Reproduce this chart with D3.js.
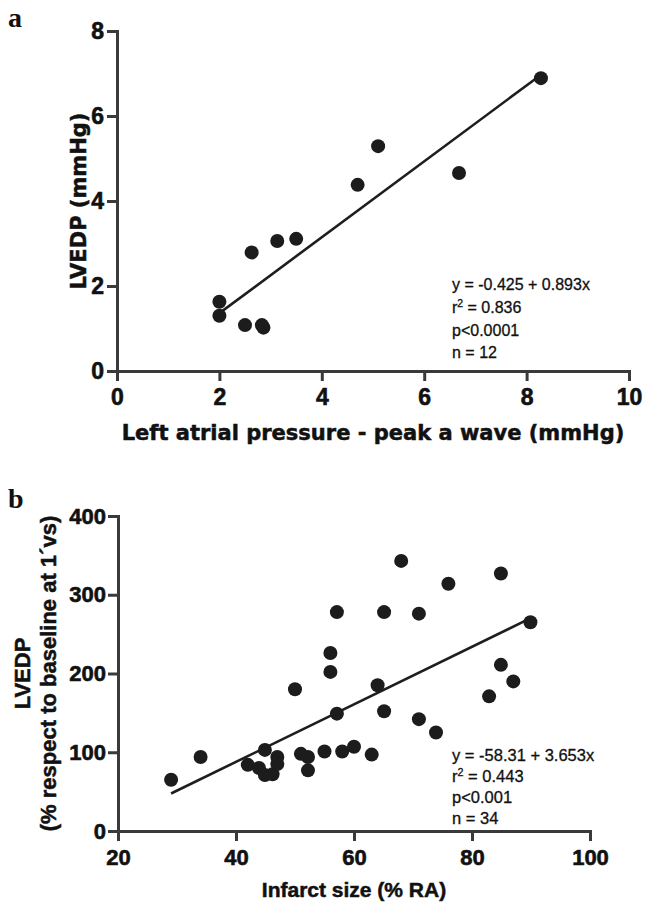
<!DOCTYPE html>
<html>
<head>
<meta charset="utf-8">
<script src="https://cdn.jsdelivr.net/npm/d3@7"></script>
<style>
  body { margin: 0; background: #fff; }
  .tick text { font-family: "Liberation Sans", Arial, sans-serif; font-weight: bold; fill: #111; stroke: #111; stroke-width: 0.6px; }
  .domain, .tick line { stroke: #3a3a3a; stroke-width: 3; }
  .heavy { stroke: #111; stroke-width: 0.5px; }
</style>
</head>
<body>
<div id="chart"></div>
<script>

// panel a : LVEDP vs left atrial pressure
var a_lap   = [2.0, 2.0, 2.5, 2.83, 2.86, 2.63, 3.13, 3.5, 4.7, 5.1, 6.68, 8.28];
var a_lvedp = [1.63, 1.30, 1.08, 1.08, 1.02, 2.79, 3.06, 3.11, 4.38, 5.29, 4.66, 6.89];
var a_fit = [-0.425, 0.893];      // intercept, slope
var a_fitRange = [2, 8.25];
var a_xticks = [0, 2, 4, 6, 8, 10];
var a_yticks = [0, 2, 4, 6, 8];
var a_stats = ["y = -0.425 + 0.893x", "r|2| = 0.836", "p<0.0001", "n = 12"];

// panel b : LVEDP (% of baseline) vs infarct size
var b_infarct = [29, 34, 42, 43.9, 44.9, 44.9, 46.2, 47, 47, 50, 51, 52.2, 52.2, 55, 56, 56, 57.1,
                 57.1, 58, 60, 63, 64, 65.1, 65.1, 68, 71, 71, 73.9, 76, 84.9, 89.9, 84.9, 87, 82.9];
var b_lvedp   = [65, 94, 84, 80, 103, 71, 72, 94, 85, 180, 98, 94, 77, 101, 226, 202, 278,
                 149, 101, 107, 97, 185, 278, 152, 343, 276, 142, 125, 314, 327, 265, 211, 190, 171];
var b_fit = [-58.31, 3.653];
var b_fitRange = [29, 89.5];
var b_xticks = [20, 40, 60, 80, 100];
var b_yticks = [0, 100, 200, 300, 400];
var b_stats = ["y = -58.31 + 3.653x", "r|2| = 0.443", "p<0.001", "n = 34"];

var svg = d3.select("#chart")
    .append("svg")
    .attr("width", 646)
    .attr("height", 902);

function drawPanel(opt) {
    var x = d3.scaleLinear().domain(opt.xdom).range(opt.xrange);
    var y = d3.scaleLinear().domain(opt.ydom).range(opt.yrange);

    var g = svg.append("g");

    // axes
    g.append("g")
        .attr("transform", "translate(0," + opt.yrange[0] + ")")
        .call(d3.axisBottom(x).tickValues(opt.xticks).tickSize(10).tickPadding(opt.xpad))
        .call(function(s) { s.selectAll("text").style("font-size", opt.tickFont + "px"); });

    g.append("g")
        .attr("transform", "translate(" + opt.xrange[0] + ",0)")
        .call(d3.axisLeft(y).tickValues(opt.yticks).tickSize(10).tickPadding(opt.ypad))
        .call(function(s) { s.selectAll("text").style("font-size", opt.tickFont + "px"); });

    // regression line
    var fitPts = opt.fitRange.map(function(v) { return [v, opt.fit[0] + opt.fit[1] * v]; });
    g.append("path")
        .attr("d", d3.line().x(function(d) { return x(d[0]); }).y(function(d) { return y(d[1]); })(fitPts))
        .attr("stroke", "#1e1e1e")
        .attr("stroke-width", 2.6)
        .attr("fill", "none");

    // points
    g.selectAll(".dot")
        .data(opt.xs)
        .enter()
        .append("circle")
        .attr("cx", function(d) { return x(d); })
        .attr("cy", function(d, i) { return y(opt.ys[i]); })
        .attr("r", 7)
        .attr("fill", "#1c1c1c");

    // stats text
    opt.stats.forEach(function(s, i) {
        var t = g.append("text")
            .attr("x", opt.statsX)
            .attr("y", opt.statsY[i])
            .attr("font-family", "Liberation Sans, Arial, sans-serif")
            .attr("font-size", opt.statsFont)
            .attr("stroke", "#111")
            .attr("stroke-width", 0.3)
            .attr("fill", "#111");
        var parts = s.split("|");
        t.append("tspan").text(parts[0]);
        if (parts.length > 1) {
            t.append("tspan").attr("dy", -6).attr("font-size", opt.statsFont * 0.65).text(parts[1]);
            t.append("tspan").attr("dy", 6).text(parts[2]);
        }
    });

    // axis titles
    g.append("text")
        .attr("class", "heavy")
        .attr("x", (opt.xrange[0] + opt.xrange[1]) / 2)
        .attr("y", opt.xtitleY)
        .attr("text-anchor", "middle")
        .attr("font-family", opt.titleFamily)
        .attr("font-weight", "bold")
        .attr("font-size", opt.titleFont)
        .attr("fill", "#111")
        .text(opt.xtitle);

    opt.ytitle.forEach(function(line, i) {
        g.append("text")
            .attr("class", "heavy")
            .attr("transform", "translate(" + opt.ytitleX[i] + "," + (opt.yrange[0] + opt.yrange[1]) / 2 + ") rotate(-90)")
            .attr("text-anchor", "middle")
            .attr("font-family", opt.titleFamily)
            .attr("font-weight", "bold")
            .attr("font-size", opt.ytitleFont)
            .attr("fill", "#111")
            .text(line);
    });

    // panel letter
    g.append("text")
        .attr("x", opt.letterPos[0])
        .attr("y", opt.letterPos[1])
        .attr("font-family", "Liberation Serif, Times New Roman, serif")
        .attr("font-weight", "bold")
        .attr("font-size", 28)
        .attr("fill", "#111")
        .text(opt.letter);
}

drawPanel({
    xdom: [0, 10], ydom: [0, 8],
    xrange: [117, 629], yrange: [371, 31],
    xticks: a_xticks, yticks: a_yticks,
    xpad: 8, ypad: 3, tickFont: 23,
    xs: a_lap, ys: a_lvedp,
    fit: a_fit, fitRange: a_fitRange,
    stats: a_stats, statsX: 452, statsY: [290, 313, 336, 358], statsFont: 16,
    xtitle: "Left atrial pressure - peak a wave (mmHg)", xtitleY: 440,
    ytitle: ["LVEDP (mmHg)"], ytitleX: [86],
    titleFamily: "DejaVu Sans, Verdana, sans-serif", titleFont: 21, ytitleFont: 21,
    letter: "a", letterPos: [8, 27]
});

drawPanel({
    xdom: [20, 100], ydom: [0, 400],
    xrange: [118, 590], yrange: [831, 516],
    xticks: b_xticks, yticks: b_yticks,
    xpad: 8, ypad: 2, tickFont: 22,
    xs: b_infarct, ys: b_lvedp,
    fit: b_fit, fitRange: b_fitRange,
    stats: b_stats, statsX: 452, statsY: [761, 782, 803, 824], statsFont: 16.5,
    xtitle: "Infarct size (% RA)", xtitleY: 897,
    ytitle: ["LVEDP", "(% respect to baseline at 1\u00b4vs)"], ytitleX: [30, 56],
    titleFamily: "Liberation Sans, Arial, sans-serif", titleFont: 21, ytitleFont: 22,
    letter: "b", letterPos: [8, 508]
});

</script>
</body>
</html>
